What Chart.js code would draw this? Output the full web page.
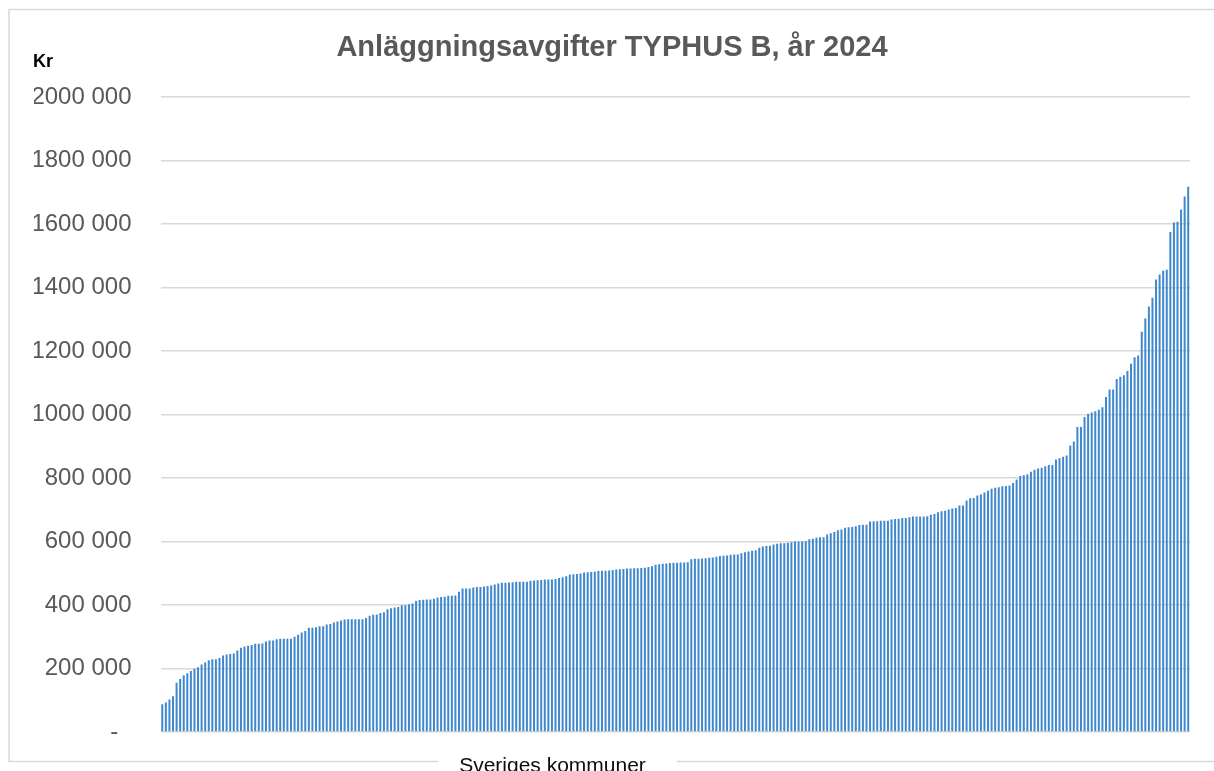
<!DOCTYPE html>
<html lang="sv">
<head>
<meta charset="utf-8">
<title>Anläggningsavgifter TYPHUS B, år 2024</title>
<script src="https://cdn.jsdelivr.net/npm/chart.js@4/dist/chart.umd.min.js"></script>
<style>
  html, body { margin: 0; padding: 0; background: #fff; }
  #wrap { width: 1214px; height: 771px; position: relative; }
</style>
</head>
<body>
<div id="wrap"><canvas id="fees-chart"></canvas></div>
<script>
// Connection fees (kr) per municipality, sorted ascending
const lowestFees = [
  87500, 92700, 102000, 112500, 155000, 167000, 179000, 185000, 192000, 199000,
  204000, 212500, 219000, 226000, 229000, 229000, 233000, 241000, 244000, 246000,
  247000, 257000, 265000, 269000, 272000, 274000, 278000, 278000, 279000, 285000,
  288500, 288500, 292000, 294000, 294000, 294000, 294000, 300000, 306000, 313500,
  318000, 328000, 328000, 330000, 333000, 333000, 338500, 340000, 345000, 348000,
  351000, 354000, 355000, 355000, 355000, 355000, 355000, 359000, 366000, 369000,
  370000, 375000, 377000, 386500, 390000, 392000, 394000
];
const lowerMidFees = [
  399000, 399000, 402000, 405000, 412500, 415600, 416700, 417700, 417700, 420000,
  424000, 425000, 426000, 429000, 429000, 430000, 441700, 452000, 452000, 452000,
  455000, 457000, 457000, 458000, 460000, 461500, 464600, 467700, 470000, 470000,
  471000, 472000, 473000, 473000, 473000, 473000, 476000, 477000, 478000, 479000,
  480000, 480000, 480000, 482000, 485000, 487500, 490600, 496000, 497000, 498000,
  499000, 502000, 503000, 504000, 505000, 507000, 508000, 508000, 509000, 510000,
  511500, 512500, 513500, 514600, 514600, 515600, 515600, 516700, 517700, 520000,
  522000, 527000, 528000, 530000, 531000, 532000, 533000, 533000, 534000, 534000,
  535000, 544000, 546000, 546000
];
const upperMidFees = [
  546600, 547600, 548700, 549700, 552000, 554000, 555000, 556000, 558000, 559000,
  559000, 563000, 566500, 568600, 570700, 572800, 580000, 584000, 586000, 587000,
  590600, 592700, 594800, 594800, 595800, 598000, 600000, 600000, 600000, 601000,
  607000, 609000, 611500, 613600, 613600, 622000, 626000, 630000, 635600, 637700,
  643000, 645000, 646000, 648000, 652000, 653000, 653000, 663000, 664000, 664000,
  665000, 665000, 665000, 669000, 671000, 672000, 674000, 674000, 676000, 678500,
  678500, 678500, 678500, 679600, 684000, 687000, 692000, 695000, 697000, 700500,
  703700, 705700, 713000, 713000, 728800, 736000, 737000, 744500
];
const highestFees = [
  748000, 754000, 760000, 766000, 769000, 771000, 774000, 775000, 776000, 784000,
  795000, 806000, 809000, 812000, 820000, 826000, 830000, 832000, 837000, 841000,
  841000, 858000, 862000, 867000, 871000, 902000, 915000, 961000, 961000, 992000,
  1002000, 1006000, 1010000, 1015000, 1023000, 1055000, 1079000, 1079000, 1112000, 1119000,
  1124000, 1137000, 1160000, 1180000, 1186000, 1261000, 1302000, 1340000, 1368000, 1425000,
  1441000, 1453000, 1456000, 1575000, 1605000, 1607000, 1646000, 1687000, 1717000
];

const fees = [...lowestFees, ...lowerMidFees, ...upperMidFees, ...highestFees];
const kommuner = fees.map((_, i) => 'Kommun ' + (i + 1));

const chartTitle = 'Anläggningsavgifter TYPHUS B, år 2024';
const yUnit = 'Kr';
const xTitle = 'Sveriges kommuner';
const yMax = 2000000;
const yStep = 200000;

const fontFamily = "'Liberation Sans', Arial, sans-serif";

// Frame round the chart, unit label and the x axis title sitting in the frame line
const framePlugin = {
  id: 'frame',
  beforeDraw(chart) {
    const ctx = chart.ctx;
    ctx.save();
    ctx.fillStyle = '#ffffff';
    ctx.fillRect(0, 0, chart.width, chart.height);

    ctx.font = '21px ' + fontFamily;
    const textW = ctx.measureText(xTitle).width;
    const cx = 552.5;
    const gapL = cx - textW / 2 - 21;
    const gapR = cx + textW / 2 + 31;

    ctx.strokeStyle = '#D9D9D9';
    ctx.lineWidth = 1.5;
    ctx.beginPath();
    ctx.moveTo(1220, 9.5);
    ctx.lineTo(9, 9.5);
    ctx.lineTo(9, 761.5);
    ctx.lineTo(gapL, 761.5);
    ctx.moveTo(gapR, 761.5);
    ctx.lineTo(1220, 761.5);
    ctx.stroke();
    ctx.restore();
  },
  afterDraw(chart) {
    const ctx = chart.ctx;
    ctx.save();
    ctx.fillStyle = '#000000';
    ctx.textBaseline = 'alphabetic';
    ctx.textAlign = 'left';
    ctx.font = 'bold 18px ' + fontFamily;
    ctx.fillText(yUnit, 33, 67);

    ctx.textAlign = 'center';
    ctx.font = '21px ' + fontFamily;
    ctx.fillStyle = '#0d0d0d';
    ctx.fillText(xTitle, 552.5, 772);
    ctx.restore();
  }
};

const ctx = document.getElementById('fees-chart').getContext('2d');
new Chart(ctx, {
  type: 'bar',
  data: {
    labels: kommuner,
    datasets: [{
      label: 'Anläggningsavgift',
      data: fees,
      backgroundColor: '#4088CD',
      borderWidth: 0,
      categoryPercentage: 1,
      barPercentage: 0.56
    }]
  },
  options: {
    responsive: true,
    maintainAspectRatio: false,
    animation: false,
    layout: {
      padding: { left: 34, right: 24, top: 0, bottom: 39 }
    },
    plugins: {
      legend: { display: false },
      tooltip: { enabled: false },
      title: {
        display: true,
        text: chartTitle,
        color: '#595959',
        font: { family: fontFamily, size: 29, weight: 'bold', lineHeight: 1.2 },
        padding: { top: 31, bottom: 31.2 }
      }
    },
    scales: {
      x: {
        display: false,
        offset: true,
        grid: { display: false }
      },
      y: {
        min: 0,
        max: yMax,
        afterFit(scale) {
          // fixed axis width; tick padding should not push the plot up
          scale.width = 126.5;
          scale.paddingTop = 0;
          scale.paddingBottom = 0;
        },
        border: { display: false },
        grid: {
          color: '#D9D9D9',
          lineWidth: 1.5,
          drawTicks: false
        },
        ticks: {
          stepSize: yStep,
          padding: 29,
          color: '#595959',
          font: { family: fontFamily, size: 24 },
          callback: (v) => v === 0 ? '-  ' : Math.round(v / 1000) + ' 000'
        }
      }
    }
  },
  plugins: [framePlugin]
});
</script>
</body>
</html>
